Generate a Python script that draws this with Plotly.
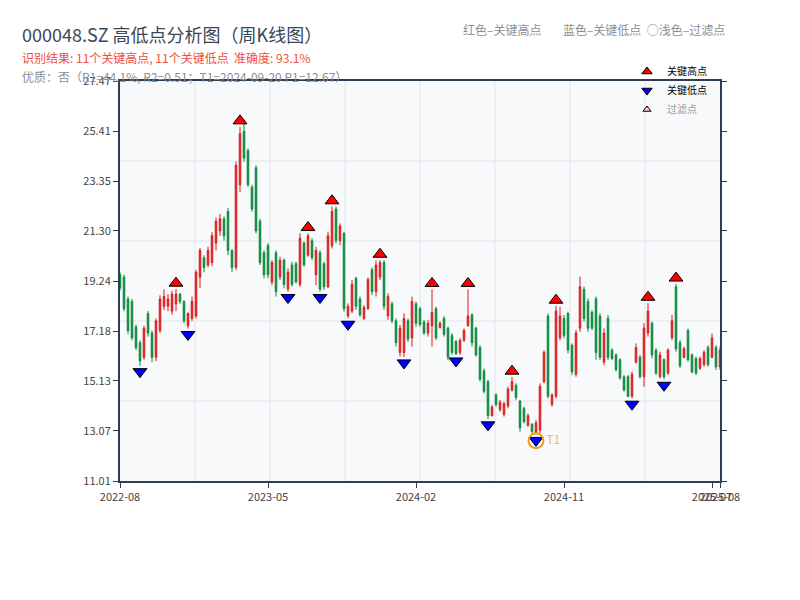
import plotly.graph_objects as go

# ---------------- data ----------------
tick_idx = [0, 37, 74, 111, 148, 150]
tick_text = ['2022-08', '2023-05', '2024-02', '2024-11', '2025-07', '2025-08']
y_ticks = [11.01, 13.07, 15.13, 17.18, 19.24, 21.30, 23.35, 25.41, 27.47]
y_tick_text = ['11.01', '13.07', '15.13', '17.18', '19.24', '21.30', '23.35', '25.41', '27.47']

opens = [19.5, 19.4, 18.5, 18.4, 17.35, 16.7, 16.1, 17.9, 17.1, 16.1,
         17.2, 18.2, 18.2, 18.0, 18.3, 18.7, 18.4, 17.4, 17.7, 17.8,
         19.4, 20.2, 19.9, 20.0, 20.8, 21.3, 21.8, 22.1, 20.5, 19.8,
         23.2, 25.4, 24.6, 23.1, 23.9, 21.7, 20.4, 20.7, 19.2, 20.4,
         19.4, 20.1, 18.9, 19.9, 19.95, 19.1, 20.8, 20.3, 20.9, 19.5,
         20.4, 19.95, 19.0, 20.7, 22.2, 20.9, 21.2, 17.8, 18.0, 19.35,
         18.5, 17.7, 18.1, 19.7, 18.8, 19.4, 20.0, 17.8, 18.3, 17.6,
         16.3, 16.3, 17.6, 16.9, 18.3, 18.1, 17.55, 17.1, 17.4, 18.1,
         17.32, 17.7, 17.3, 17.0, 16.75, 16.3, 16.8, 17.4, 17.85, 17.3,
         16.5, 15.55, 15.1, 13.7, 14.55, 13.95, 13.75, 14.1, 14.75, 14.95,
         14.3, 14.0, 13.3, 13.35, 13.0, 13.1, 15.1, 17.8, 14.15, 14.5,
         16.9, 17.7, 17.9, 16.6, 15.4, 17.3, 18.9, 18.4, 17.95, 18.5,
         17.8, 15.9, 17.7, 16.4, 16.2, 16.0, 15.3, 15.3, 14.5, 15.9,
         16.1, 15.3, 17.1, 17.5, 16.4, 15.3, 16.0, 15.45, 16.9, 19.0,
         16.7, 16.1, 17.2, 16.2, 16.05, 15.65, 15.8, 16.5, 16.1, 16.5,
         15.7]
highs = [19.6, 19.5, 18.6, 18.5, 17.45, 16.8, 17.4, 18.0, 17.2, 17.7,
         18.65, 18.9, 18.7, 18.85, 18.91, 18.75, 18.45, 17.95, 18.6, 19.7,
         20.6, 20.3, 20.65, 21.25, 21.85, 22.0, 21.9, 22.25, 20.55, 24.15,
         25.59, 25.7, 24.7, 23.2, 24.0, 21.8, 20.5, 20.8, 20.1, 20.5,
         20.24, 20.17, 19.76, 20.03, 20.03, 21.2, 20.86, 21.2, 21.0, 20.65,
         20.5, 20.03, 21.27, 22.3, 22.3, 21.61, 21.27, 18.32, 19.28, 19.42,
         18.6, 18.25, 19.39, 19.8, 20.08, 20.1, 20.1, 18.73, 18.39, 17.7,
         17.43, 17.91, 17.7, 18.6, 18.39, 18.18, 17.64, 17.64, 18.9, 18.18,
         17.57, 17.8, 17.36, 17.09, 16.81, 16.88, 17.29, 18.9, 17.91, 17.36,
         16.6, 15.64, 15.17, 14.14, 14.62, 14.34, 14.27, 14.89, 15.29, 15.03,
         14.34, 14.07, 13.79, 13.38, 13.52, 15.03, 16.4, 17.91, 14.62, 18.21,
         18.18, 17.84, 17.98, 16.67, 17.22, 19.42, 19.01, 18.53, 18.05, 18.6,
         17.91, 17.29, 17.84, 16.47, 16.26, 16.06, 15.37, 15.37, 15.51, 16.67,
         16.2, 17.5, 18.33, 17.57, 16.47, 16.33, 16.06, 16.47, 17.84, 19.12,
         16.81, 16.54, 17.29, 16.26, 16.13, 16.13, 16.4, 16.6, 17.08, 16.6,
         16.54]
lows = [18.85, 18.0, 17.05, 16.8, 16.4, 15.75, 16.0, 16.95, 15.9, 15.95,
        17.1, 18.05, 18.0, 17.85, 18.0, 18.3, 17.5, 17.28, 17.6, 17.7,
        18.95, 19.6, 19.8, 19.85, 20.5, 21.1, 20.9, 20.3, 19.6, 19.69,
        22.9, 24.15, 23.1, 22.1, 21.2, 19.9, 19.35, 19.35, 19.07, 18.6,
        19.28, 18.94, 18.8, 19.0, 19.14, 19.0, 19.83, 20.24, 20.1, 19.07,
        18.8, 18.87, 18.94, 20.58, 20.79, 20.72, 17.98, 17.7, 17.91, 18.05,
        17.77, 17.64, 18.05, 18.66, 18.6, 19.28, 18.05, 17.64, 17.5, 16.54,
        16.13, 16.11, 16.74, 16.54, 17.36, 17.36, 17.02, 16.95, 16.54, 16.81,
        17.29, 16.95, 15.99, 16.2, 16.19, 16.2, 16.74, 17.36, 16.54, 16.13,
        15.1, 14.62, 13.56, 13.66, 14.07, 13.86, 13.66, 14.0, 14.69, 14.34,
        13.04, 13.38, 13.24, 12.97, 12.92, 12.97, 15.03, 14.41, 14.07, 14.41,
        16.81, 16.88, 16.26, 15.37, 15.3, 17.15, 17.57, 17.15, 17.22, 16.0,
        15.99, 15.78, 15.99, 15.99, 15.51, 15.17, 14.69, 14.45, 14.41, 15.85,
        15.23, 14.89, 16.95, 16.06, 15.37, 15.23, 15.19, 15.37, 16.81, 16.33,
        15.65, 16.06, 15.92, 15.44, 15.37, 15.58, 15.71, 15.71, 16.06, 15.58,
        15.58]
closes = [18.95, 18.1, 17.2, 16.9, 16.5, 15.95, 17.3, 17.1, 16.1, 17.6,
          18.5, 18.6, 18.5, 18.7, 18.7, 18.4, 17.6, 17.9, 18.4, 19.6,
          20.5, 19.8, 20.5, 21.1, 21.7, 21.8, 21.1, 20.5, 19.8, 24.0,
          25.3, 24.3, 23.2, 22.2, 21.3, 20.0, 19.5, 19.5, 20.0, 18.8,
          20.1, 19.1, 19.6, 19.1, 19.2, 21.0, 19.9, 21.1, 20.2, 20.5,
          18.9, 19.0, 21.1, 22.1, 20.9, 21.5, 18.1, 18.2, 19.1, 18.2,
          17.85, 18.15, 19.3, 18.8, 19.9, 20.0, 18.2, 18.6, 17.6, 16.7,
          17.3, 17.7, 16.85, 18.4, 17.5, 17.45, 17.1, 17.5, 17.95, 16.9,
          17.5, 17.05, 16.1, 16.3, 16.25, 16.8, 17.2, 17.8, 16.7, 16.2,
          15.2, 14.7, 13.7, 14.05, 14.15, 14.25, 14.2, 14.8, 15.1, 14.45,
          13.2, 13.45, 13.7, 13.05, 13.4, 14.9, 16.3, 14.5, 14.55, 18.0,
          17.8, 17.0, 16.4, 15.5, 17.1, 19.0, 17.7, 17.3, 17.3, 16.3,
          16.1, 17.1, 16.1, 16.05, 15.6, 15.25, 14.75, 14.5, 15.4, 16.5,
          15.3, 17.3, 18.0, 16.2, 15.45, 16.2, 15.3, 16.4, 17.6, 16.45,
          15.75, 16.45, 16.0, 15.5, 15.45, 16.05, 16.3, 15.8, 16.9, 15.7,
          16.4]

high_idx = [14, 30, 47, 53, 65, 78, 87, 98, 109, 132, 139]
low_idx = [5, 17, 42, 50, 57, 71, 84, 92, 104, 128, 136]
t1_idx = 104
t1_price = 12.67

x_idx = list(range(len(opens)))
marker_gap = 0.24  # visual offset so triangles sit just outside the candle

FONT = "Noto Sans CJK SC"
AXIS_COLOR = '#2c3e50'

fig = go.Figure()

fig.add_trace(go.Candlestick(
    x=x_idx, open=opens, high=highs, low=lows, close=closes,
    increasing=dict(line=dict(color='#d61a1a', width=1), fillcolor='#f03030'),
    decreasing=dict(line=dict(color='#0b8a3c', width=1), fillcolor='#0b8a3c'),
    whiskerwidth=0, showlegend=False, hoverinfo='skip'
))

fig.add_trace(go.Scatter(
    x=high_idx, y=[highs[i] + marker_gap for i in high_idx], mode='markers',
    marker=dict(symbol='triangle-up', size=12, color='#ff0000', line=dict(color='#000', width=1)),
    showlegend=False, hoverinfo='skip'
))
fig.add_trace(go.Scatter(
    x=low_idx, y=[lows[i] - marker_gap for i in low_idx], mode='markers',
    marker=dict(symbol='triangle-down', size=12, color='#0000ff', line=dict(color='#000', width=1)),
    showlegend=False, hoverinfo='skip'
))
fig.add_trace(go.Scatter(
    x=[t1_idx], y=[t1_price], mode='markers+text', text=['T1'], textposition='middle right',
    textfont=dict(color='#f5b865', size=12, family=FONT),
    marker=dict(symbol='circle-open', size=15, color='#f39c12', line=dict(color='#f39c12', width=2)),
    showlegend=False, hoverinfo='skip'
))

# legend-only entries
fig.add_trace(go.Scatter(x=[None], y=[None], mode='markers', name='关键高点',
                         marker=dict(symbol='triangle-up', size=9, color='#ff0000', line=dict(color='#000', width=1))))
fig.add_trace(go.Scatter(x=[None], y=[None], mode='markers', name='关键低点',
                         marker=dict(symbol='triangle-down', size=9, color='#0000ff', line=dict(color='#000', width=1))))
fig.add_trace(go.Scatter(x=[None], y=[None], mode='markers', name="<span style='color:#999999'>过滤点</span>",
                         marker=dict(symbol='triangle-up', size=7, color='#ffc8d0', line=dict(color='#000', width=1))))

shapes = []
for k in range(1, 8):
    shapes.append(dict(type='line', xref='x domain', yref='y domain', x0=k / 8, x1=k / 8, y0=0, y1=1,
                       line=dict(color='#e2e5ea', width=1), layer='below'))
for k in range(1, 5):
    shapes.append(dict(type='line', xref='x domain', yref='y domain', x0=0, x1=1, y0=k / 5, y1=k / 5,
                       line=dict(color='#e2e5ea', width=1), layer='below'))

annotations = [
    dict(text='000048.SZ 高低点分析图（周K线图）', x=-0.1667, y=1.1175, xref='paper', yref='paper',
         xanchor='left', yanchor='middle', showarrow=False, font=dict(size=18, color='#3b4756', family=FONT)),
    dict(text='识别结果: 11个关键高点, 11个关键低点  准确度: 93.1%', x=-0.1667, y=1.0575, xref='paper', yref='paper',
         xanchor='left', yanchor='middle', showarrow=False, font=dict(size=12, color='#ef4f40', family=FONT)),
    dict(text='优质：否（R1=44.1%, R2=0.51；T1=2024-09-20 P1=12.67）', x=-0.1667, y=1.0125, xref='paper', yref='paper',
         xanchor='left', yanchor='middle', showarrow=False, font=dict(size=12, color='#8a8f96', family=FONT)),
    dict(text='红色–关键高点        蓝色–关键低点  ○浅色–过滤点', x=1.0117, y=1.13, xref='paper', yref='paper',
         xanchor='right', yanchor='middle', showarrow=False, font=dict(size=12, color='#8a8f96', family=FONT)),
]

fig.update_layout(
    width=784, height=584,
    margin=dict(l=112, r=72, t=73, b=111, autoexpand=False),
    paper_bgcolor='white', plot_bgcolor='#f7f9fb',
    font=dict(family=FONT, size=11, color='#444'),
    boxgap=0.45,
    shapes=shapes, annotations=annotations,
    legend=dict(x=0.845, y=1.06, xanchor='left', yanchor='top', bgcolor='rgba(0,0,0,0)',
                font=dict(size=10, color='#000', family=FONT), tracegroupgap=0),
    xaxis=dict(range=[0, 150], tickvals=tick_idx, ticktext=tick_text, showgrid=False, zeroline=False,
               showline=True, linecolor=AXIS_COLOR, linewidth=2, mirror=True, tickangle=0,
               ticks='outside', ticklen=5, tickcolor=AXIS_COLOR, rangeslider=dict(visible=False),
               tickfont=dict(size=11, color='#444')),
    yaxis=dict(range=[11.01, 27.47], tickvals=y_ticks, ticktext=y_tick_text, showgrid=False, zeroline=False,
               showline=True, linecolor=AXIS_COLOR, linewidth=2, mirror='ticks',
               ticks='outside', ticklen=5, tickcolor=AXIS_COLOR, tickfont=dict(size=11, color='#444')),
)

fig.write_html("out.html")
